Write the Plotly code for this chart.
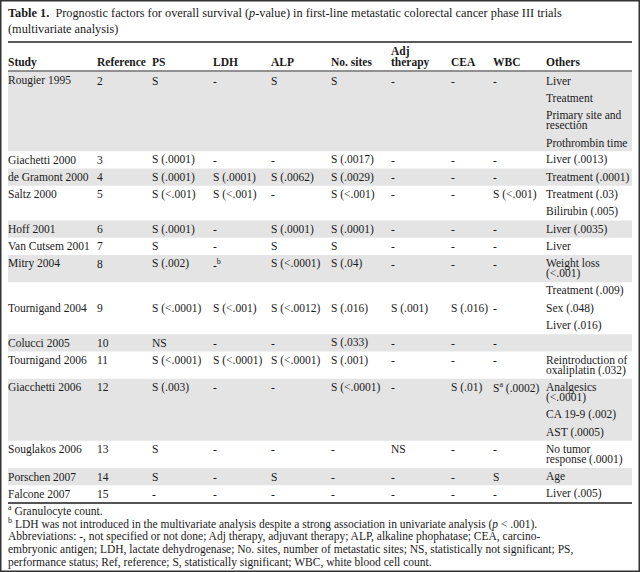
import plotly.graph_objects as go

# ---------------- data ----------------
title_bold = "Table 1."
title_line1 = "Prognostic factors for overall survival (<i>p</i>-value) in first-line metastatic colorectal cancer phase III trials"
title_line2 = "(multivariate analysis)"

headers = ["Study", "Reference", "PS", "LDH", "ALP", "No. sites", "Adj|therapy", "CEA", "WBC", "Others"]

studies = ["Rougier 1995", "Giachetti 2000", "de Gramont 2000", "Saltz 2000", "Hoff 2001",
           "Van Cutsem 2001", "Mitry 2004", "Tournigand 2004", "Colucci 2005", "Tournigand 2006",
           "Giacchetti 2006", "Souglakos 2006", "Porschen 2007", "Falcone 2007"]
references = ["2", "3", "4", "5", "6", "7", "8", "9", "10", "11", "12", "13", "14", "15"]
ps = ["S", "S (.0001)", "S (.0001)", "S (<.001)", "S (.0001)", "S", "S (.002)", "S (<.0001)",
      "NS", "S (<.0001)", "S (.003)", "S", "S", "-"]
ldh = ["-", "-", "S (.0001)", "S (<.001)", "-", "-", "-<sup>b</sup>", "S (<.001)", "-",
       "S (<.0001)", "-", "-", "-", "-"]
alp = ["S", "-", "S (.0062)", "-", "S (.0001)", "S", "S (<.0001)", "S (<.0012)", "-",
       "S (<.0001)", "-", "-", "S", "-"]
no_sites = ["S", "S (.0017)", "S (.0029)", "S (<.001)", "S (.0001)", "S", "S (.04)", "S (.016)",
            "S (.033)", "S (.001)", "S (<.0001)", "-", "-", "-"]
adj_therapy = ["-", "-", "-", "-", "-", "-", "-", "S (.001)", "-", "-", "-", "NS", "-", "-"]
cea = ["-", "-", "-", "-", "-", "-", "-", "S (.016)", "-", "-", "S (.01)", "-", "-", "-"]
wbc = ["-", "-", "-", "S (<.001)", "-", "-", "-", "-", "-", "-", "S<sup>a</sup> (.0002)", "-", "S", "-"]
others = [
    ["Liver", "Treatment", "Primary site and|resection", "Prothrombin time"],
    ["Liver (.0013)"],
    ["Treatment (.0001)"],
    ["Treatment (.03)", "Bilirubin (.005)"],
    ["Liver (.0035)"],
    ["Liver"],
    ["Weight loss|(<.001)"],
    ["Treatment (.009)", "Sex (.048)", "Liver (.016)"],
    [],
    ["Reintroduction of|oxaliplatin (.032)"],
    ["Analgesics|(<.0001)", "CA 19-9 (.002)", "AST (.0005)"],
    ["No tumor|response (.0001)"],
    ["Age"],
    ["Liver (.005)"],
]

footnotes = [
    "<sup>a</sup> Granulocyte count.",
    "<sup>b</sup> LDH was not introduced in the multivariate analysis despite a strong association in univariate analysis (<i>p</i> < .001).",
    "Abbreviations: -, not specified or not done; Adj therapy, adjuvant therapy; ALP, alkaline phophatase; CEA, carcino-",
    "embryonic antigen; LDH, lactate dehydrogenase; No. sites, number of metastatic sites; NS, statistically not significant; PS,",
    "performance status; Ref, reference; S, statistically significant; WBC, white blood cell count.",
]

# ---------------- layout / style ----------------
W, H = 640, 572
FONT = "Liberation Serif"
FS = 11.5
TXT = "#1a1a1a"
GRAY = "#e4e4e4"
col_x = [8, 97, 152, 213, 271, 331, 391, 451, 493, 546]
LEFT, RIGHT = 8, 632
TOP_RULE, HEAD_RULE = 42, 71
ITEM_H, WRAP_H = 17.3, 10
main_item = {7: 1}  # row whose main cells align with a middle "Others" item


def esc(s):
    return s.replace("<.", "&lt;.").replace("< .", "&lt; .")


annotations = []
shapes = []


def add_text(x, y, text, size=FS, bold=False):
    t = esc(text)
    if bold:
        t = "<b>" + t + "</b>"
    annotations.append(dict(x=x, y=y, xref="x", yref="y", text=t, showarrow=False,
                            xanchor="left", yanchor="middle", borderpad=0, borderwidth=0,
                            font=dict(family=FONT, size=size, color=TXT)))


# title
annotations.append(dict(x=8, y=13, xref="x", yref="y", showarrow=False, xanchor="left", yanchor="middle",
                        text="<b>" + title_bold + "</b>  " + title_line1, borderpad=0, borderwidth=0,
                        font=dict(family=FONT, size=12.3, color=TXT)))
annotations.append(dict(x=8, y=29, xref="x", yref="y", showarrow=False, xanchor="left", yanchor="middle",
                        text=title_line2, borderpad=0, borderwidth=0,
                        font=dict(family=FONT, size=12.3, color=TXT)))

# header
for x, h in zip(col_x, headers):
    parts = h.split("|")
    if len(parts) == 2:
        add_text(x, 51, parts[0], bold=True)
        add_text(x, 62, parts[1], bold=True)
    else:
        add_text(x, 62, h, bold=True)

# rows
y = HEAD_RULE + 1
columns = [studies, references, ps, ldh, alp, no_sites, adj_therapy, cea, wbc]
for i in range(len(studies)):
    items = others[i] if others[i] else [""]
    heights = [ITEM_H + (len(it.split("|")) - 1) * WRAP_H for it in items]
    row_h = sum(heights)
    if i % 2 == 0:
        shapes.append(dict(type="rect", xref="x", yref="y", x0=LEFT, x1=RIGHT, y0=y, y1=y + row_h,
                           fillcolor=GRAY, line=dict(width=0), layer="below"))
    yy = y
    item_centers = []
    for it, hgt in zip(items, heights):
        lines = it.split("|")
        item_centers.append(yy + ITEM_H / 2)
        for j, ln in enumerate(lines):
            if ln:
                add_text(col_x[9], yy + ITEM_H / 2 + j * WRAP_H, ln)
        yy += hgt
    yc = item_centers[main_item.get(i, 0)]
    for c, col in enumerate(columns):
        add_text(col_x[c], yc, col[i])
    y += row_h
BOTTOM_RULE = y + 0.5

# rules
shapes.append(dict(type="line", xref="x", yref="y", x0=LEFT, x1=RIGHT, y0=TOP_RULE, y1=TOP_RULE,
                   line=dict(color="#222", width=1.6)))
shapes.append(dict(type="line", xref="x", yref="y", x0=LEFT, x1=RIGHT, y0=HEAD_RULE, y1=HEAD_RULE,
                   line=dict(color="#222", width=1)))
shapes.append(dict(type="line", xref="x", yref="y", x0=LEFT, x1=RIGHT, y0=BOTTOM_RULE, y1=BOTTOM_RULE,
                   line=dict(color="#555", width=2)))
# frame
shapes.append(dict(type="rect", xref="x", yref="y", x0=0.75, x1=W - 0.75, y0=0.75, y1=H - 0.75,
                   line=dict(color="#333", width=1.5), fillcolor="rgba(0,0,0,0)"))

# footnotes
fy = BOTTOM_RULE + 7.5
for k, f in enumerate(footnotes):
    add_text(8, fy + k * 12.9, f, size=11.5)

fig = go.Figure()
fig.update_layout(
    width=W, height=H, margin=dict(l=0, r=0, t=0, b=0),
    paper_bgcolor="white", plot_bgcolor="white",
    xaxis=dict(range=[0, W], visible=False, fixedrange=True),
    yaxis=dict(range=[H, 0], visible=False, fixedrange=True),
    annotations=annotations, shapes=shapes, showlegend=False,
)
fig.write_html("out.html", config={"displayModeBar": False},
               post_script="document.body.style.margin='0';document.body.style.overflow='hidden';")
